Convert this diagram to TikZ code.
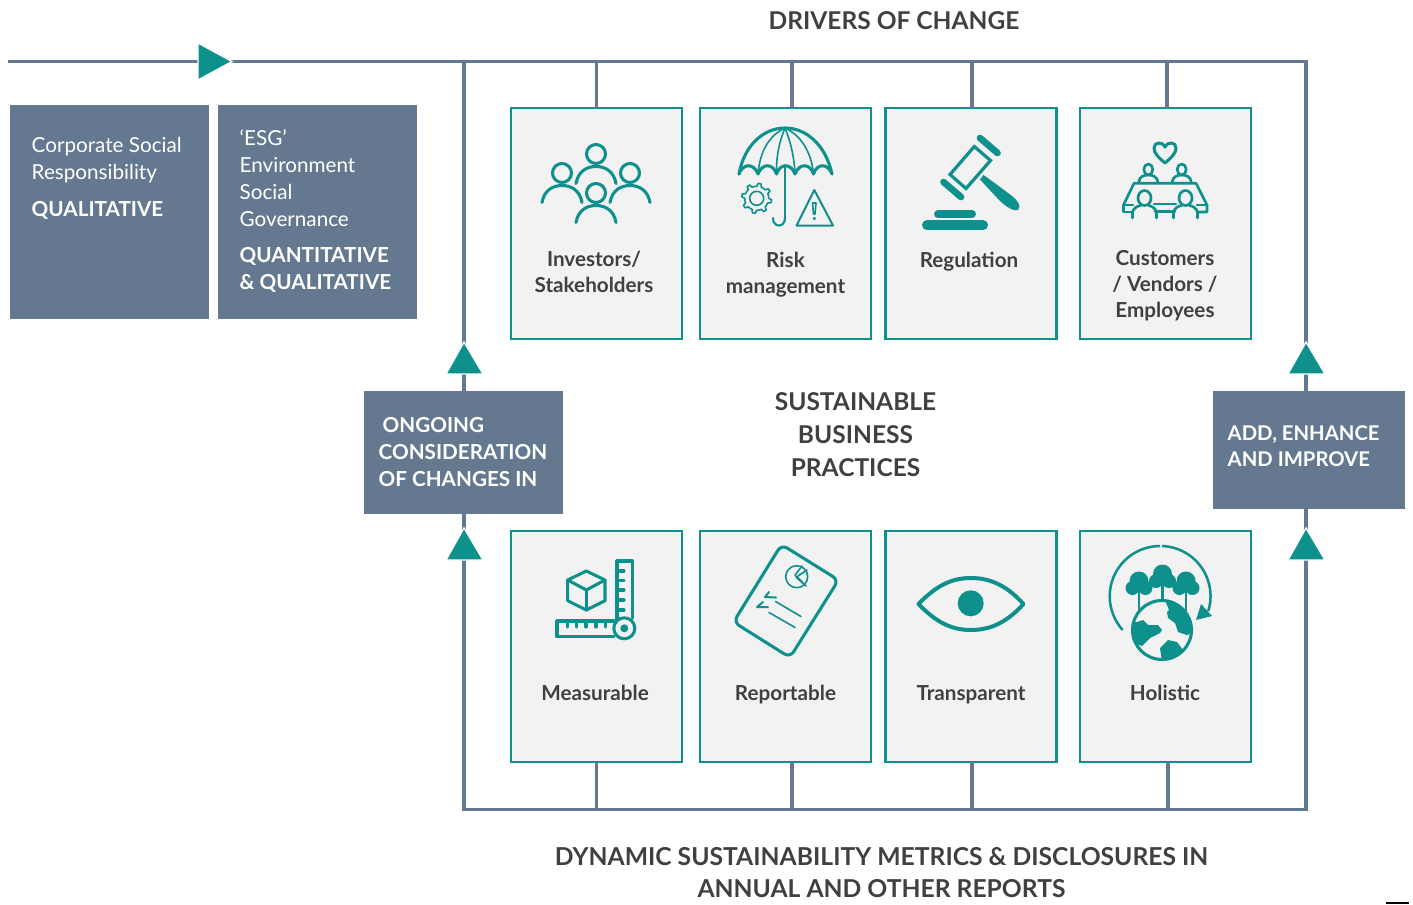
\documentclass[tikz,border=0pt]{standalone}
\usepackage{fontspec}
\setmainfont{Lato}
\definecolor{slate}{HTML}{64798F}
\definecolor{teal1}{HTML}{0E918C}
\definecolor{cardbg}{HTML}{F2F2F2}
\definecolor{ink}{HTML}{404040}
\tikzset{
  rail/.style={draw=slate, line width=2.4pt},
  card/.style={draw=teal1, fill=cardbg, line width=2pt, minimum width=128.25pt, minimum height=173.25pt, inner sep=0pt, outer sep=0pt},
  slatebox/.style={fill=slate, inner sep=0pt, outer sep=0pt},
  head/.style={teal1, fill=teal1, draw=white, line width=1pt},
  icon/.style={draw=teal1, line width=2.3pt, line cap=round, line join=round},
  thinicon/.style={draw=teal1, line width=1.2pt, line cap=round, line join=round},
  title/.style={text=ink, font=\fontsize{18.4}{25}\bfseries\selectfont, align=center},
  cardlabel/.style={text=ink, font=\fontsize{15.5}{19.5}\bfseries\selectfont, align=center},
  boxtext/.style={text=white, anchor=west, font=\fontsize{15.5}{20.25}\selectfont, align=left},
  boxhead/.style={text=white, anchor=west, font=\fontsize{15.5}{20.25}\bfseries\selectfont, align=left},
}
\begin{document}
\begin{tikzpicture}[x=0.75pt,y=-0.75pt]
  \useasboundingbox (0,0) rectangle (1413,904);
  % rails
  \coordinate (start) at (8,61.5);
  \coordinate (topleft) at (464,61.5);
  \coordinate (topright) at (1306,61.5);
  \coordinate (botleft) at (464,809.5);
  \coordinate (botright) at (1306,809.5);
  \draw [rail] (start) -- (topright) -- (botright) -- (botleft) -- (topleft);
  % stubs
  \node [card] (investors) at (596.5,223.5) {};
  \node [card] (risk) at (785.5,223.5) {};
  \node [card] (regulation) at (971.3,223.5) {};
  \node [card] (customers) at (1165.5,223.5) {};
  \node [card] (measurable) at (596.5,646.5) {};
  \node [card] (reportable) at (785.5,646.5) {};
  \node [card] (transparent) at (971.3,646.5) {};
  \node [card] (holistic) at (1165.5,646.5) {};
  \foreach \cname/\cx in {investors/596.5,risk/792,regulation/972,customers/1167}
    \draw [rail] (\cx,61.5) -- (\cx,61.5 |- \cname.north);
  \foreach \cname/\cx in {measurable/596.5,reportable/792,transparent/972,holistic/1168}
    \draw [rail] (\cx,809.5) -- (\cx,809.5 |- \cname.south);
  % slate boxes
  \node [slatebox, minimum width=149.25pt, minimum height=160.5pt] (csrbox) at (109.5,212) {};
  \node [slatebox, minimum width=149.25pt, minimum height=160.5pt] (esgbox) at (317.5,212) {};
  \node [slatebox, minimum width=149.25pt, minimum height=92.25pt] (ongoing) at (463.5,452.5) {};
  \node [slatebox, minimum width=144pt, minimum height=88.5pt] (addbox) at (1309,450) {};
  % arrowheads
  \draw [head] (198,43) -- (232,61.5) -- (198,80) -- cycle;
  \draw [head] (446,374) -- (464,342) -- (483,374) -- cycle;
  \draw [head] (446,560) -- (464,528) -- (483,560) -- cycle;
  \draw [head] (1288,374) -- (1306,342) -- (1325,374) -- cycle;
  \draw [head] (1288,560) -- (1306,528) -- (1325,560) -- cycle;
  % box texts
  \node [boxtext] (csrtext) at (27,160) {Corporate Social\\Responsibility};
  \node [boxhead] (csrhead) at (27,210) {QUALITATIVE};
  \node [boxtext] (esgtext) at (235,178.5) {‘ESG’\\Environment\\Social\\Governance};
  \node [boxhead] (esghead) at (235,270) {QUANTITATIVE\\\& QUALITATIVE};
  \node [boxhead] (ongoingtext) at (374,452.5) {\hspace{3pt}ONGOING\\CONSIDERATION\\OF CHANGES IN};
  \node [boxhead, font=\fontsize{15.2}{19.5}\bfseries\selectfont] (addtext) at (1223,446) {ADD, ENHANCE\\AND IMPROVE};
  % titles
  \node [title] (drivers) at (894,21) {DRIVERS OF CHANGE};
  \node [title] (practices) at (855.5,434.5) {SUSTAINABLE\\BUSINESS\\PRACTICES};
  \node [title, font=\fontsize{18.5}{24}\bfseries\selectfont] (reports) at (881.5,872.5) {DYNAMIC SUSTAINABILITY METRICS \& DISCLOSURES IN\\ANNUAL AND OTHER REPORTS};
  % card labels
  \node [cardlabel] (l1) at (594,272) {Investors/\\Stakeholders};
  \node [cardlabel] (l2) at (785.5,274.5) {Risk\\management};
  \node [cardlabel] (l3) at (969,262) {Regulation};
  \node [cardlabel] (l4) at (1165,286) {Customers\\/ Vendors /\\Employees};
  \node [cardlabel] (l5) at (595,693) {Measurable};
  \node [cardlabel] (l6) at (785.5,695) {Reportable};
  \node [cardlabel] (l7) at (971,695) {Transparent};
  \node [cardlabel] (l8) at (1165,693) {Holistic};
  % people
  \foreach \px/\py in {596/154,562/173,630/173,596/193} {
    \draw [icon] (\px,\py) circle [radius=9.5];
    \draw [icon] (\px-20,\py+29.5) .. controls (\px-18,\py+18) and (\px-10,\py+12.5) .. (\px,\py+12.5)
      .. controls (\px+10,\py+12.5) and (\px+18,\py+18) .. (\px+20,\py+29.5);
  }
  % umbrella
  \draw [icon] (739,174) .. controls (744,146) and (763,128) .. (785,128) .. controls (807,128) and (826,146) .. (832,174);
  \draw [icon] (739,174) .. controls (743,163) and (754,163) .. (758,174) .. controls (762,163) and (773,163) .. (776.5,174)
    .. controls (780,163) and (791,163) .. (795,174) .. controls (799,163) and (810,163) .. (813.5,174)
    .. controls (817,163) and (828,163) .. (832,174);
  \draw [thinicon] (785,128) .. controls (770,135) and (760,150) .. (758,174);
  \draw [thinicon] (785,128) .. controls (780,140) and (776,155) .. (776.5,174);
  \draw [thinicon] (785,128) .. controls (790,140) and (794,155) .. (795,174);
  \draw [thinicon] (785,128) .. controls (800,135) and (811,150) .. (813.5,174);
  \draw [thinicon] (785,166) -- (785,218);
  \draw [icon, line width=1.6pt] (785,218) .. controls (785,228) and (773,228) .. (773,218);
  \draw [thinicon, shift={(756.7,198.3)}] plot [domain=0:360, samples=65] (\x:{12+3*(sin(8*\x)>0)}) -- cycle;
  \draw [thinicon] (756.7,198.3) circle [radius=7];
  \draw [icon, line width=1.5pt] (814.3,190) -- (833,225.5) -- (796.5,225.5) -- cycle;
  \draw [thinicon] (812.5,203) -- (816,203) -- (815,214) -- (813.5,214) -- cycle;
  \fill [teal1] (814.3,218.5) circle [radius=1.8];
  % gavel
  \draw [icon, line cap=butt, line width=2.4pt, line join=miter] (974.3,146.5) -- (990.5,160.5) -- (966,188.5) -- (950,174.5) -- cycle;
  \draw [teal1, line width=5pt, line cap=round] (980,138) -- (997.5,153);
  \draw [teal1, line width=5pt, line cap=round] (943.5,182) -- (961,197);
  \fill [teal1] (983.5,175) -- (980,179.5) -- (1000,201) .. controls (1006,207) and (1015,212) .. (1018,210) .. controls (1022,206) and (1017,200) .. (1012,196) .. controls (1004,190) and (995,183) .. (983.5,175) -- cycle;
  \draw [teal1, line width=6pt, line cap=round] (938,214.3) -- (972,214.3);
  \draw [teal1, line width=7.5pt, line cap=round] (927,225.3) -- (983,225.3);
  % table
  \draw [icon] (1165,163) .. controls (1158,157) and (1154,153) .. (1154,148) .. controls (1154,142) and (1162,141) .. (1165,147)
    .. controls (1168,141) and (1176,142) .. (1176,148) .. controls (1176,153) and (1172,157) .. (1165,163);
  \foreach \hx in {1148.3,1181.7} {
    \draw [icon, line width=2pt] (\hx,169.5) ellipse [x radius=4.5, y radius=5.5];
    \draw [icon, line width=2pt] (\hx-9.5,182) .. controls (\hx-9,177) and (\hx-5,175) .. (\hx,175) .. controls (\hx+5,175) and (\hx+9,177) .. (\hx+9.5,182);
  }
  \draw [icon, line width=2pt] (1123.5,205) -- (1134,183.3) -- (1196,183.3) -- (1207,205) -- (1207,212) -- (1199,212);
  \draw [icon, line width=2pt] (1123.5,205) -- (1123.5,212) -- (1131,212);
  \draw [icon, line width=2pt] (1123.5,205) -- (1133,205);
  \draw [icon, line width=2pt] (1197,205) -- (1207,205);
  \draw [icon, line width=2pt] (1154,204) -- (1176,204);
  \draw [icon, line width=2pt] (1155,211.5) -- (1175,211.5);
  \foreach \hx in {1144.5,1185.5} {
    \draw [icon, line width=2pt] (\hx,198) ellipse [x radius=6.5, y radius=7.5];
    \draw [icon, line width=2pt] (\hx-12,218) -- (\hx-12,212) .. controls (\hx-11,208) and (\hx-7,206) .. (\hx-4,205.5);
    \draw [icon, line width=2pt] (\hx+12,218) -- (\hx+12,212) .. controls (\hx+11,208) and (\hx+7,206) .. (\hx+4,205.5);
  }
  % cube and rulers
  \draw [icon] (586.3,571) -- (605,580) -- (605,600.7) -- (586.3,610) -- (567.7,600.7) -- (567.7,580) -- cycle;
  \draw [icon] (567.7,580) -- (586.3,590) -- (605,580);
  \draw [icon] (586.3,590) -- (586.3,610);
  \draw [icon] (617,620) -- (617,561) -- (632.3,561) -- (632.3,618);
  \draw [icon] (614,636.7) -- (557,636.7) -- (557,621) -- (614,621);
  \foreach \ry in {571,580.7,590,600,610}
    \draw [icon] (617,\ry) -- (624,\ry);
  \foreach \rx in {567.3,576.7,586,596,605.7}
    \draw [icon] (\rx,621) -- (\rx,627);
  \draw [icon] (624.3,628.3) circle [radius=10.5];
  \fill [teal1] (624.3,628.3) circle [radius=4];
  % document
  \draw [icon, rounded corners=5pt] (781.5,544.5) -- (838.5,580) -- (790,657.5) -- (733.5,622) -- cycle;
  \draw [thinicon] (796.7,576.7) circle [radius=11];
  \draw [thinicon] (807,570) -- (797,576.7) -- (805,585);
  \draw [thinicon] (802,566) -- (795,575) -- (797,578) -- (806,586);
  \draw [icon, line width=1.5pt] (769,592) -- (765,597) -- (776,597.5);
  \draw [icon, line width=1.5pt] (763,602) -- (757,607) -- (768,607);
  \draw [thinicon] (775.5,601.5) -- (801,616.5);
  \draw [thinicon] (769,612.5) -- (795,627.5);
  % eye
  \draw [icon, line width=3pt] (918.5,604) .. controls (935,587) and (950,578) .. (971,578) .. controls (992,578) and (1008,587) .. (1023.5,604)
    .. controls (1008,621) and (992,630) .. (971,630) .. controls (950,630) and (935,621) .. (918.5,604) -- cycle;
  \fill [teal1] (970.7,603.3) circle [radius=13];
  % globe and trees
  \foreach \tx/\ty in {1139/584,1162.5/577,1186/584} {
    \draw [icon, line width=1.8pt] (\tx,\ty+6) -- (\tx,\ty+27);
    \fill [teal1] (\tx,\ty-3) circle [radius=9.5];
    \fill [teal1] (\tx-6.5,\ty+4) circle [radius=7];
    \fill [teal1] (\tx+6.5,\ty+4) circle [radius=7];
  }
  \draw [draw=teal1, fill=cardbg, line width=2.3pt] (1162,630) circle [radius=29.5];
  \begin{scope}
    \clip (1162,630) circle [radius=29.5];
    \fill [teal1] (1165,600) -- (1169,610) -- (1167,612) -- (1168,618) -- (1175,623) -- (1178,632) -- (1187,635) -- (1192,633) -- (1197,600) -- cycle;
    \fill [teal1] (1137,622) -- (1143,620) -- (1148,625) -- (1158,625) -- (1162,630) -- (1160,633) -- (1150,638) -- (1142,646) -- (1125,640) -- (1125,622) -- cycle;
    \fill [teal1] (1162,662) -- (1160,648) -- (1168,640) -- (1177,642) -- (1183,650) -- (1187,665) -- (1162,665) -- cycle;
  \end{scope}
  \draw [icon, line width=1.9pt, line cap=butt] (1160,546) arc [start angle=-90, end angle=-222, radius=50.3];
  \draw [icon, line width=1.9pt, line cap=butt] (1162,546) arc [start angle=-88, end angle=17, radius=50.3];
  \fill [teal1] (1201,604) -- (1212,616) -- (1196,620) -- cycle;
  % corner mark
  \draw [black, line width=0.8pt] (1386,903) -- (1409,903);
\end{tikzpicture}
\end{document}
